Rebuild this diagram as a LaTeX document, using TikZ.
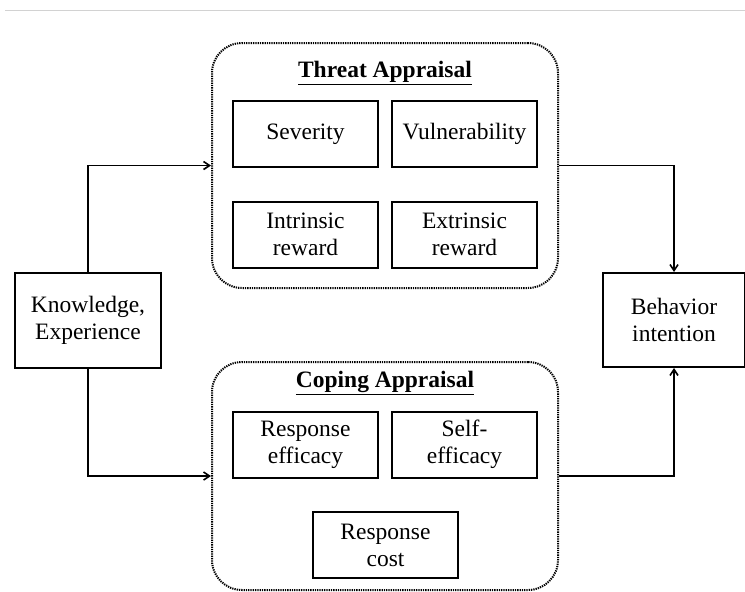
\documentclass[tikz,border=0pt]{standalone}
\usepackage{fontspec}
\setmainfont{Liberation Serif}
\usetikzlibrary{arrows.meta}

\begin{document}
\begin{tikzpicture}[x=1pt, y=-1pt,
        factor/.style={draw, line width=2pt, minimum width=145pt, minimum height=66pt, align=center, inner sep=0pt, font=\fontsize{23.5}{27}\selectfont},
        appraisal/.style={draw, line width=2pt, dash pattern=on 1.3pt off 1pt, rounded corners=30pt, minimum width=346pt, inner sep=0pt},
        heading/.style={font=\fontsize{23.5}{27}\selectfont\bfseries},
        link/.style={line width=1.6pt, -{Straight Barb[length=6pt, width=8pt, line width=1.6pt]}}]
        \useasboundingbox (0,0) rectangle (745,592);
        % top rule
        \draw[gray!35, line width=1pt] (5,10) -- (745,10);
        % appraisal groups
        \node[appraisal, minimum height=245pt] (threat) at (385,165.5) {};
        \node[appraisal, minimum height=228pt] (coping) at (385,476) {};
        \node[heading] (threattitle) at (385,73) {\underline{Threat Appraisal}};
        \node[heading] (copingtitle) at (385,383) {\underline{Coping Appraisal}};
        % threat factors
        \node[factor] (sev) at (305.5,134) {Severity};
        \node[factor] (vul) at (464.5,134) {Vulnerability};
        \node[factor] (intr) at (305.5,234.5) {Intrinsic\\reward};
        \node[factor] (extr) at (464.5,234.5) {Extrinsic\\reward};
        % coping factors
        \node[factor] (resp) at (305.5,444.5) {Response\\efficacy};
        \node[factor] (self) at (464.5,444.5) {Self-\\efficacy};
        \node[factor] (cost) at (385.5,545) {Response\\cost};
        % input and output
        \node[factor, minimum width=146pt, minimum height=95pt] (know) at (88,320.5) {Knowledge,\\Experience};
        \node[factor, minimum width=142pt, minimum height=94pt] (behav) at (674,320) {Behavior\\intention};
        % connectors
        \draw[link] (know.north) |- (threat.west);
        \draw[link] (know.south) |- (coping.west);
        \draw[link] (threat.east) -| (behav.north);
        \draw[link] (coping.east) -| (behav.south);
\end{tikzpicture}
\end{document}
